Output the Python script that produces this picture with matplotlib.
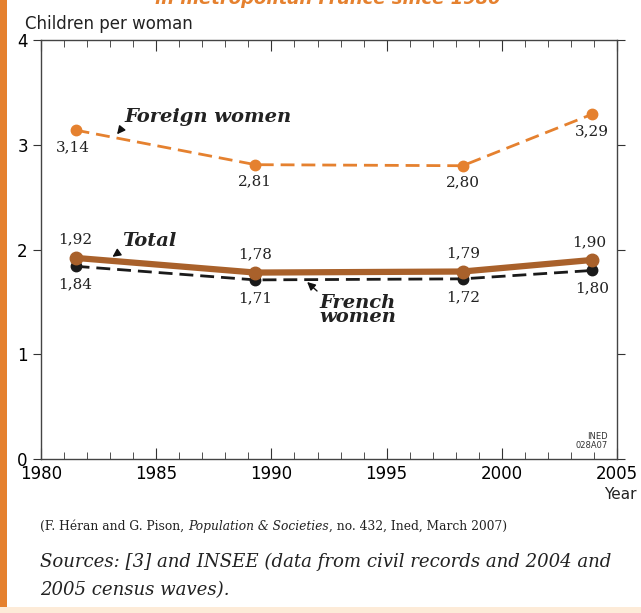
import matplotlib.pyplot as plt
from matplotlib.patches import Rectangle
from matplotlib.ticker import MultipleLocator

years = [1981.5, 1989.3, 1998.3, 2003.9]
foreign = [3.14, 2.81, 2.80, 3.29]
total = [1.92, 1.78, 1.79, 1.90]
french = [1.84, 1.71, 1.72, 1.80]
foreign_lbl = ["3,14", "2,81", "2,80", "3,29"]
total_lbl = ["1,92", "1,78", "1,79", "1,90"]
french_lbl = ["1,84", "1,71", "1,72", "1,80"]

orange = "#E5812F"
brown = "#A9612B"
sans = "DejaVu Sans"
serif = "DejaVu Serif"

fig = plt.figure(figsize=(6.41, 6.13), dpi=100)
ax = fig.add_axes([0.064, 0.2512, 0.8986, 0.6835])

ax.plot(years, foreign, color=orange, lw=2, ls=(0, (5, 2.5)), marker="o", ms=7.5, zorder=3)
ax.plot(years, french, color="#1a1a1a", lw=2, ls=(0, (5, 2.5)), marker="o", ms=7.5, zorder=3)
ax.plot(years, total, color=brown, lw=4.5, marker="o", ms=9, zorder=4)

ax.set_xlim(1980, 2005)
ax.set_ylim(0, 4)
ax.xaxis.set_major_locator(MultipleLocator(5))
ax.xaxis.set_minor_locator(MultipleLocator(1))
ax.set_yticks([0, 1, 2, 3, 4])
ax.tick_params(axis="x", which="major", direction="in", length=8, top=True, labelsize=12, pad=4, color="#333333")
ax.tick_params(axis="x", which="minor", direction="in", length=5, top=True, color="#333333")
ax.tick_params(axis="y", direction="out", length=6, right=True, labelsize=12, color="#333333")
for lab in ax.get_xticklabels() + ax.get_yticklabels():
    lab.set_family(sans)
for s in ax.spines.values():
    s.set_color("#444444")
    s.set_linewidth(1)

# value labels
for x, v, t in zip(years, foreign, foreign_lbl):
    ax.annotate(t, (x, v), xytext=(-2 if x < 1985 else 0, -7), textcoords="offset points", ha="center",
                va="top", fontsize=11, family=serif, color="#222222")
for x, v, t in zip(years, total, total_lbl):
    ax.annotate(t, (x, v), xytext=(-2 if x > 2000 else 0, 8), textcoords="offset points", ha="center",
                va="bottom", fontsize=11, family=serif, color="#222222")
for x, v, t in zip(years, french, french_lbl):
    ax.annotate(t, (x, v), xytext=(0, -8), textcoords="offset points", ha="center", va="top",
                fontsize=11, family=serif, color="#222222")

lbl = dict(fontsize=14, family=serif, style="italic", weight="bold", color="#222222")
ax.annotate("Foreign women", xy=(1983.3, 3.1), xytext=(1983.6, 3.22), ha="left", va="baseline", **lbl,
            arrowprops=dict(arrowstyle="-|>", color="#111111", lw=1, mutation_scale=12,
                            relpos=(0, 0), shrinkA=0, shrinkB=0))
ax.annotate("Total", xy=(1983.1, 1.93), xytext=(1983.5, 2.03), ha="left", va="baseline", **lbl,
            arrowprops=dict(arrowstyle="-|>", color="#111111", lw=1, mutation_scale=12,
                            relpos=(0, 0), shrinkA=0, shrinkB=0))
ax.annotate("French\nwomen", xy=(1991.55, 1.69), xytext=(1992.1, 1.58), ha="left", va="top",
            linespacing=0.75, **lbl,
            arrowprops=dict(arrowstyle="-|>", color="#111111", lw=1, mutation_scale=12,
                            relpos=(0, 1), shrinkA=0, shrinkB=0))
ax.text(2004.6, 0.09, "INED\n028A07", fontsize=6, family=sans, ha="right", va="bottom",
        linespacing=0.9, color="#333333")

fig.text(25 / 641, 0.952, "Children per woman", fontsize=12, family=sans, color="#222222", va="baseline")
fig.text(0.993, 1 - 499 / 613, "Year", fontsize=11, family=sans, color="#222222", ha="right", va="baseline")

# cut-off title at the top
fig.text(328 / 641, 0.993, "in metropolitan France since 1980", fontsize=13, family=sans, style="italic",
         weight="bold", color=orange, ha="center", va="baseline")

# footer
r = fig.canvas.get_renderer()
x0 = 40 / 641
y0 = 1 - 530 / 613
parts = [("(F. Héran and G. Pison, ", "normal"), ("Population & Societies", "italic"),
         (", no. 432, Ined, March 2007)", "normal")]
for txt, st in parts:
    t = fig.text(x0, y0, txt, fontsize=8.8, family=serif, style=st, color="#222222", va="baseline")
    bb = t.get_window_extent(r)
    x0 += bb.width / fig.bbox.width
src = dict(fontsize=13.1, family=serif, style="italic", color="#222222", va="baseline")
fig.text(40 / 641, 1 - 567 / 613, "Sources: [3] and INSEE (data from civil records and 2004 and", **src)
fig.text(40 / 641, 1 - 595 / 613, "2005 census waves).", **src)

# decorations
fig.add_artist(Rectangle((0, 1 - 607 / 613), 7 / 641, 607 / 613, transform=fig.transFigure,
                         color=orange, lw=0))
fig.add_artist(Rectangle((0, 0), 1, 6 / 613, transform=fig.transFigure, color="#FDEBD8", lw=0))

fig.savefig("out.png", dpi=100)
